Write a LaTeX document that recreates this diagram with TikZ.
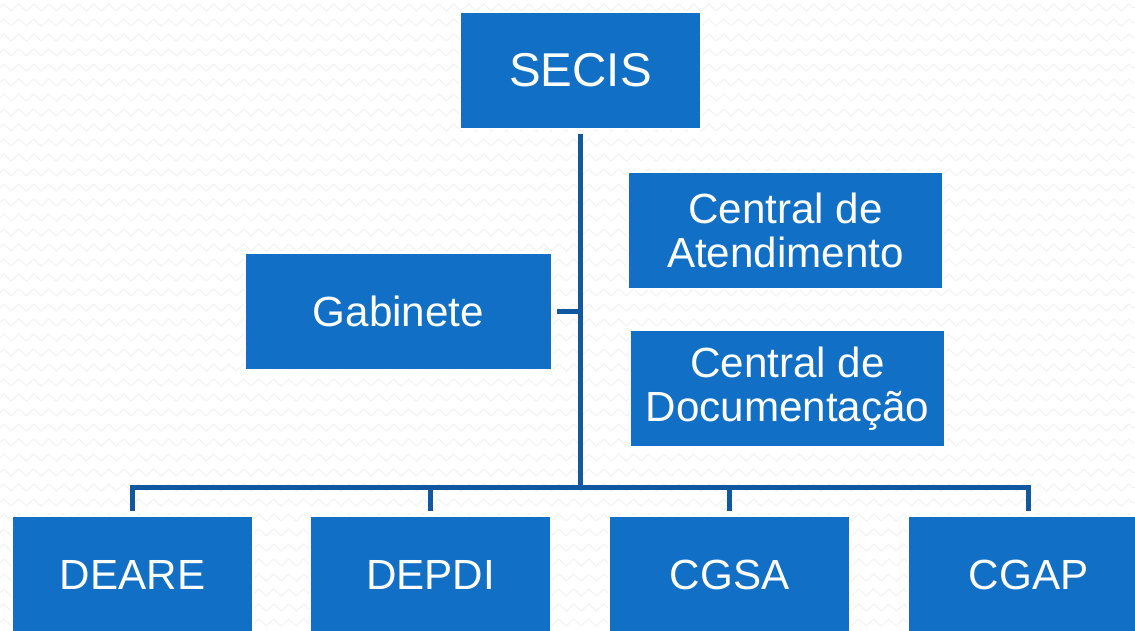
\documentclass[tikz,border=0pt]{standalone}
\usepackage{fontspec}
\setmainfont{Liberation Sans}
\usetikzlibrary{positioning, decorations.pathmorphing}
\definecolor{boxblue}{RGB}{17,112,198}
\definecolor{lineblue}{RGB}{16,88,160}
\definecolor{zzgray}{RGB}{243,243,243}

\begin{document}
\begin{tikzpicture}[
    unitbox/.style={draw=white, line width=0.8pt, fill=boxblue, text=white,
        minimum width=4.82cm, minimum height=2.34cm, outer sep=0.1cm,
        align=center, font=\fontsize{24}{25}\selectfont},
    widebox/.style={unitbox, minimum width=6.3cm},
    link/.style={draw=lineblue, line width=0.1cm},
    zz/.style={draw=zzgray, line width=0.6pt, decorate,
        decoration={zigzag, segment length=0.3cm, amplitude=0.07cm}}]
\useasboundingbox (0,0) rectangle (22.7,-12.6);
\fill[white] (0,0) rectangle (22.7,-12.6);
\foreach \y in {0.15,0.45,...,12.6}
    \draw[zz] (0,-\y) -- (22.7,-\y);
\node[unitbox, font=\fontsize{27}{28}\selectfont] (secis) at (11.61,-1.41) {SECIS};
\node[unitbox, minimum width=6.14cm] (gab) at (7.97,-6.23) {Gabinete};
\node[widebox] (centat) at (15.71,-4.61) {Central de\\Atendimento};
\node[widebox] (centdoc) at (15.75,-7.77) {Central de\\Documentação};
\node[unitbox] (deare) at (2.65,-11.49) {DEARE};
\node[unitbox] (depdi) at (8.61,-11.49) {DEPDI};
\node[unitbox] (cgsa) at (14.59,-11.49) {CGSA};
\node[unitbox] (cgap) at (20.57,-11.49) {CGAP};
\coordinate (hub) at (secis.south |- 0,-9.74);
\draw[link] (secis.south) -- (hub);
\draw[link] (gab.east) -- (gab.east -| hub);
\draw[link] (deare.north) |- (hub) -| (cgap.north);
\draw[link] (depdi.north) -- (depdi.north |- hub);
\draw[link] (cgsa.north) -- (cgsa.north |- hub);
\end{tikzpicture}
\end{document}
